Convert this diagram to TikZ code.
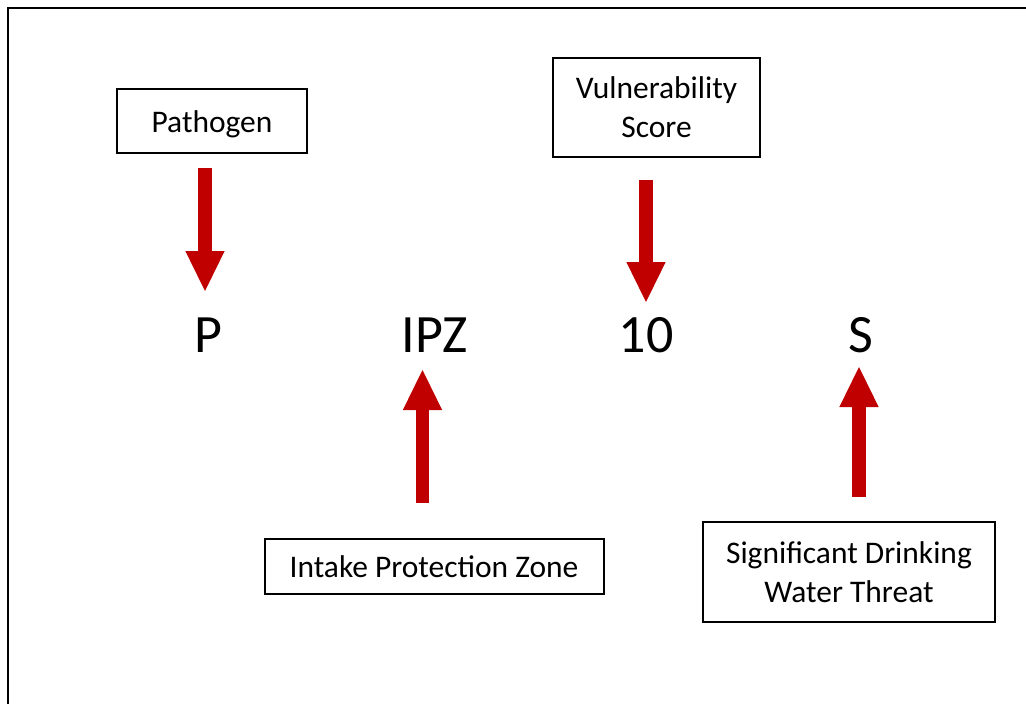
\documentclass[tikz,border=0pt]{standalone}
\usepackage{fontspec}
\setmainfont{Carlito}
\usetikzlibrary{arrows.meta}
\definecolor{arrowred}{HTML}{C00000}
\begin{document}
\begin{tikzpicture}[x=0.75pt,y=-0.75pt,
  box/.style={draw=black,line width=1.5pt,inner sep=0pt,align=center,
    font=\fontsize{23.6pt}{29.25pt}\selectfont},
  onebox/.style={box,text height=20.5pt,text depth=4pt},
  bigletter/.style={inner sep=0pt,anchor=base,font=\fontsize{40.5pt}{48pt}\selectfont},
  fatarrow/.style={draw=arrowred,line width=10pt,
    -{Triangle[width=29.5pt,length=30pt,line width=0pt]}}]
\useasboundingbox (0,0) rectangle (1026,704);
\draw[line width=1.4pt] (8,720) -- (8,8) -- (1040,8);
% boxes
\node[onebox,minimum width=142.5pt,minimum height=48pt] (pathogen) at (212,121) {Pathogen};
\node[box,minimum width=155.25pt,minimum height=74.25pt] (vuln) at (656.5,107) {Vulnerability\\Score};
\node[onebox,minimum width=254.25pt,minimum height=41.25pt] (ipz) at (434,566) {Intake Protection Zone};
\node[box,minimum width=219pt,minimum height=75pt] (sdwt) at (849,572) {Significant Drinking\\Water Threat};
% letters
\node[bigletter] (lp) at (208,352) {P};
\node[bigletter] (lipz) at (435,352) {IPZ};
\node[bigletter] (lten) at (646,352) {10};
\node[bigletter] (ls) at (861,352) {S};
% arrow end points
\coordinate (a1s) at (205,168);
\coordinate (a1e) at (205,291);
\coordinate (a2s) at (422.5,503);
\coordinate (a2e) at (422.5,370);
\coordinate (a3s) at (646,180);
\coordinate (a3e) at (646,302);
\coordinate (a4s) at (859,497);
\coordinate (a4e) at (859,367);
\draw[fatarrow] (a1s) -- (a1e);
\draw[fatarrow] (a2s) -- (a2e);
\draw[fatarrow] (a3s) -- (a3e);
\draw[fatarrow] (a4s) -- (a4e);
\end{tikzpicture}
\end{document}
